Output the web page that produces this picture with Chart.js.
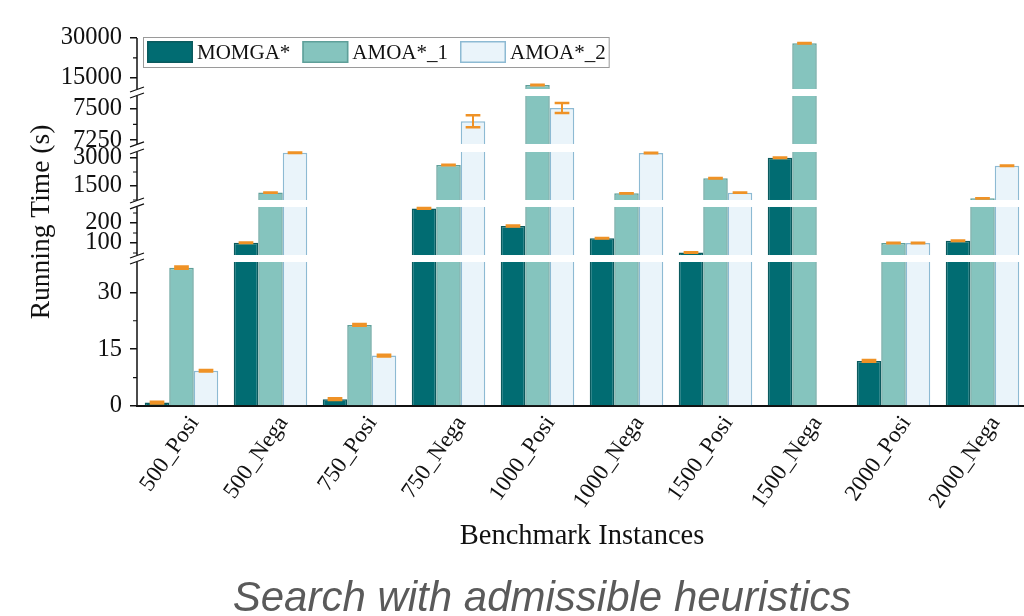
<!DOCTYPE html>
<html>
<head>
<meta charset="utf-8">
<script src="https://cdn.jsdelivr.net/npm/chart.js@4.4.1/dist/chart.umd.min.js"></script>
<style>
  html, body { margin: 0; padding: 0; background: #fff; overflow: hidden; }
  #wrap { position: relative; width: 1024px; height: 616px; overflow: hidden; background: #fff; }
  #c { position: absolute; left: 0; top: 0; }
  #caption {
    position: absolute; left: 0; width: 1084px; top: 573px; text-align: center;
    font: italic 42px 'Liberation Sans', Arial, sans-serif; color: #5a5a5a;
  }
</style>
</head>
<body>
<div id="wrap">
  <canvas id="c" width="1030" height="616"></canvas>
  <div id="caption">Search with admissible heuristics</div>
</div>
<script>
// Benchmark instances and mean running times (s) for each algorithm
const categories = ['500_Posi', '500_Nega', '750_Posi', '750_Nega', '1000_Posi',
                    '1000_Nega', '1500_Posi', '1500_Nega', '2000_Posi', '2000_Nega'];
const seriesNames = ['MOMGA*', 'AMOA*_1', 'AMOA*_2'];
const momga = [0.9, 101, 1.8, 273, 185, 124, 52, 3016, 11.9, 111];
const amoa1 = [36.5, 1150, 21.4, 2625, 12300, 1110, 1912, 28000, 100, 841];
const amoa2 = [9.3, 3280, 13.3, 7400, 7505, 3270, 1141, null, 100, 2588];
// Standard deviations drawn as error bars
const momgaErr = [0.2, 1, 0.2, 2, 2, 1, 1, 10, 0.2, 1];
const amoa1Err = [0.3, 5, 0.2, 10, 60, 5, 10, 60, 1, 5];
const amoa2Err = [0.2, 10, 0.2, 48, 40, 10, 5, null, 1, 10];
// Value-axis tick values
const majorTicks = [0, 15, 30, 100, 200, 1500, 3000, 7250, 7500, 15000, 30000];
const minorTicks = [7.5, 22.5, 50, 150, 250, 750, 2250, 7375, 22500];

// Broken value axis: each segment maps a value range onto a slice of the axis height
const segments = [
  { lo: 0,     hi: 38,    from: 0,      to: 0.3913 },
  { lo: 40,    hi: 280,   from: 0.4103, to: 0.5408 },
  { lo: 750,   hi: 3320,  from: 0.5598, to: 0.6902 },
  { lo: 7220,  hi: 7600,  from: 0.7120, to: 0.8424 },
  { lo: 10800, hi: 30000, from: 0.8614, to: 1 }
];

class BrokenScale extends Chart.LinearScale {
  determineDataLimits() {
    this.min = 0;
    this.max = segments[segments.length - 1].hi;
  }
  buildTicks() {
    return majorTicks.map(v => ({ value: v }));
  }
  valueToFraction(v) {
    let seg = segments[0];
    for (const s of segments) { if (v >= s.lo) seg = s; }
    const t = Math.min(Math.max((v - seg.lo) / (seg.hi - seg.lo), 0), 1);
    return seg.from + t * (seg.to - seg.from);
  }
  getPixelForValue(v) {
    return this.bottom - this.valueToFraction(v) * (this.bottom - this.top);
  }
  getValueForPixel(p) {
    const f = (this.bottom - p) / (this.bottom - this.top);
    for (const s of segments) {
      if (f <= s.to) {
        const t = Math.max((f - s.from) / (s.to - s.from), 0);
        return s.lo + t * (s.hi - s.lo);
      }
    }
    return this.max;
  }
}
BrokenScale.id = 'broken';
BrokenScale.defaults = {};
Chart.register(BrokenScale);

const SERIF = "'Liberation Serif', 'Times New Roman', serif";
Chart.defaults.font.family = SERIF;
Chart.defaults.color = '#111';

const fills = ['#016c72', '#85c4be', '#eaf4fa'];
const borders = ['#0b5a5e', '#5f9f99', '#8dbad3'];
const errors = [momgaErr, amoa1Err, amoa2Err];
const values = [momga, amoa1, amoa2];

const brokenAxisPlugin = {
  id: 'brokenAxis',
  afterDatasetsDraw(chart) {
    const { ctx, chartArea } = chart;
    const ys = chart.scales.y;
    const H = ys.bottom - ys.top;
    ctx.save();

    // white bands where the axis is broken
    ctx.fillStyle = '#fff';
    const gaps = [];
    for (let k = 0; k < segments.length - 1; k++) {
      const yLow = ys.bottom - segments[k].to * H;
      const yHigh = ys.bottom - segments[k + 1].from * H;
      gaps.push([yLow, yHigh]);
      ctx.fillRect(chartArea.left + 1, yHigh, chartArea.right - chartArea.left, yLow - yHigh);
    }

    // error bars
    ctx.strokeStyle = '#ef9226';
    values.forEach((vals, di) => {
      const meta = chart.getDatasetMeta(di);
      meta.data.forEach((bar, j) => {
        const v = vals[j], e = errors[di][j];
        if (v == null || e == null) return;
        const yT = ys.getPixelForValue(v + e);
        const yB = ys.getPixelForValue(v - e);
        const half = bar.width * 0.3;
        ctx.lineWidth = 2;
        ctx.beginPath();
        ctx.moveTo(bar.x, yT); ctx.lineTo(bar.x, yB);
        ctx.stroke();
        ctx.lineWidth = 2.6;
        ctx.beginPath();
        ctx.moveTo(bar.x - half, yT); ctx.lineTo(bar.x + half, yT);
        ctx.moveTo(bar.x - half, yB); ctx.lineTo(bar.x + half, yB);
        ctx.stroke();
      });
    });

    // axis line in pieces, with break marks
    const x = chartArea.left;
    ctx.strokeStyle = '#111';
    ctx.lineWidth = 1.5;
    ctx.beginPath();
    segments.forEach(s => {
      ctx.moveTo(x, ys.bottom - s.from * H);
      ctx.lineTo(x, ys.bottom - s.to * H);
    });
    ctx.stroke();
    ctx.lineWidth = 1.3;
    ctx.beginPath();
    gaps.forEach(([yLow, yHigh]) => {
      ctx.moveTo(x - 7, yLow + 2); ctx.lineTo(x + 7, yLow - 3);
      ctx.moveTo(x - 7, yHigh + 3); ctx.lineTo(x + 7, yHigh - 2);
    });
    ctx.stroke();

    // minor ticks
    ctx.lineWidth = 1.2;
    ctx.beginPath();
    minorTicks.forEach(v => {
      const p = ys.getPixelForValue(v);
      ctx.moveTo(x - 4, p); ctx.lineTo(x, p);
    });
    ctx.stroke();
    ctx.restore();
  },
  afterDraw(chart) {
    // legend box
    const { ctx } = chart;
    ctx.save();
    ctx.font = '21px ' + SERIF;
    ctx.textBaseline = 'middle';
    const top = 37, h = 30;
    let cx = 147;
    const items = [];
    seriesNames.forEach((name, i) => {
      const w = ctx.measureText(name).width;
      items.push({ x: cx, name, i, w });
      cx += 46 + 4 + w + 12;
    });
    const right = cx - 12 + 3;
    ctx.fillStyle = '#fff';
    ctx.fillRect(143, top, right - 143, h);
    ctx.strokeStyle = '#9a9a9a';
    ctx.lineWidth = 1;
    ctx.strokeRect(143.5, top + 0.5, right - 143, h);
    items.forEach(it => {
      ctx.fillStyle = fills[it.i];
      ctx.fillRect(it.x, top + 4, 46, 22);
      ctx.strokeStyle = borders[it.i];
      ctx.lineWidth = 1.5;
      ctx.strokeRect(it.x + 0.75, top + 4.75, 44.5, 20.5);
      ctx.fillStyle = '#111';
      ctx.fillText(it.name, it.x + 50, top + h / 2 + 1);
    });
    ctx.restore();
  }
};

new Chart(document.getElementById('c'), {
  type: 'bar',
  data: {
    labels: categories,
    datasets: seriesNames.map((name, i) => ({
      label: name,
      data: values[i],
      backgroundColor: fills[i],
      borderColor: borders[i],
      borderWidth: 1.5,
      borderSkipped: 'start',
      categoryPercentage: 0.826,
      barPercentage: 1
    }))
  },
  options: {
    responsive: false,
    animation: false,
    layout: { padding: { left: 0, right: 3, top: 38, bottom: 0 } },
    plugins: { legend: { display: false }, tooltip: { enabled: false } },
    scales: {
      x: {
        grid: { display: false, drawTicks: false },
        border: { display: true, color: '#111', width: 2 },
        ticks: {
          autoSkip: false, maxRotation: 55, minRotation: 55,
          font: { size: 23 }, color: '#111', padding: 5, labelOffset: 13
        },
        title: {
          display: true, text: 'Benchmark Instances', color: '#111',
          font: { size: 28.5 }, padding: { top: 0, bottom: 62 }
        },
        afterFit(s) { s.height = 210; }
      },
      y: {
        type: 'broken',
        grid: { display: true, drawOnChartArea: false, drawTicks: true, tickLength: 7, color: '#111', lineWidth: 1.5 },
        border: { display: false },
        ticks: { autoSkip: false, font: { size: 24.5 }, color: '#111', padding: 8, callback: v => String(v) },
        title: {
          display: true, text: 'Running Time (s)', color: '#111',
          font: { size: 27.5 }, padding: { top: 25, bottom: 0 }
        },
        afterFit(s) { s.width = 137; }
      }
    }
  },
  plugins: [brokenAxisPlugin]
});
</script>
</body>
</html>
